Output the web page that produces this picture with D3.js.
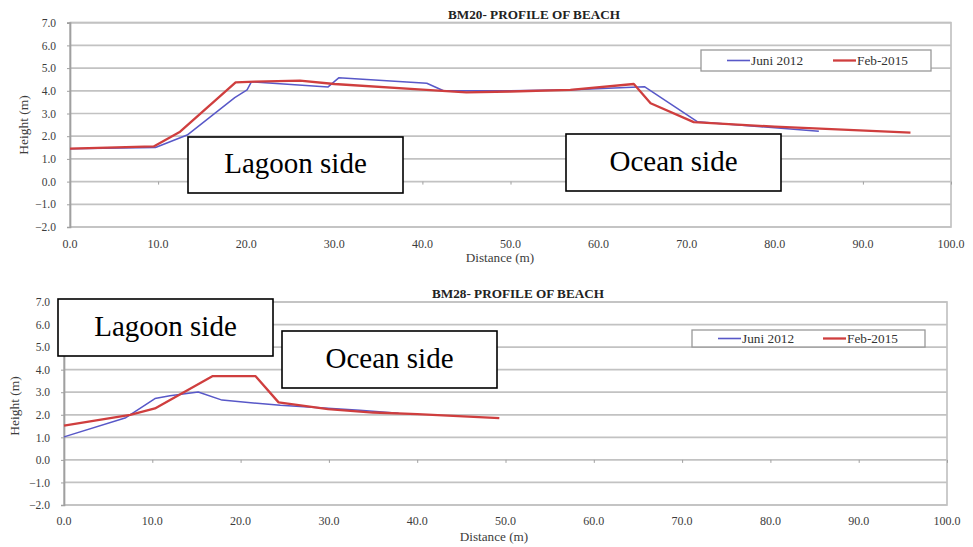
<!DOCTYPE html>
<html><head><meta charset="utf-8">
<script src="https://cdn.jsdelivr.net/npm/d3@7"></script>
<style>
body{margin:0;background:#fff;}
svg{display:block;}
</style></head>
<body>
<svg id="c" width="973" height="547"></svg>
<script>
// ---- data ----
const seriesNames = ["Juni 2012", "Feb-2015"];
const xTicks = [0,10,20,30,40,50,60,70,80,90,100];
const yTicks = [-2,-1,0,1,2,3,4,5,6,7];

// BM20 profile
const bm20Juni2012 = [[0,1.45],[9.7,1.5],[13.3,2.05],[18.7,3.7],[20.1,4.04],[20.6,4.4],[29.3,4.17],[30.5,4.57],[40.5,4.33],[42.4,4.0],[50,4.0],[57,4.05],[65.2,4.18],[71.2,2.64],[85,2.22]];
const bm20Feb2015 = [[0,1.45],[9.5,1.55],[12.5,2.2],[18.8,4.37],[21,4.4],[26.1,4.45],[30,4.3],[40,4.05],[45,3.93],[50,3.97],[56.8,4.04],[64,4.3],[65.9,3.45],[70.8,2.62],[80,2.42],[95.4,2.16]];
// BM28 profile
const bm28Juni2012 = [[0,1.02],[7,1.87],[10.3,2.72],[12,2.84],[15.2,3.01],[17.9,2.65],[24.5,2.42],[33.5,2.2],[37.9,2.07]];
const bm28Feb2015 = [[0,1.52],[7.5,2.0],[10.3,2.28],[16.8,3.71],[21.7,3.71],[24.3,2.55],[29.9,2.25],[35,2.1],[40,2.03],[49.3,1.85]];

const titles = ["BM20- PROFILE OF BEACH", "BM28- PROFILE OF BEACH"];
const xLabel = "Distance (m)", yLabel = "Height (m)";
const notes = ["Lagoon side", "Ocean side"];

const colors = ["#5858c8", "#cf3e3e"];
const FONT = "'Liberation Serif'";
const svg = d3.select("#c");

function chart(cfg){
  const g = svg.append("g");
  const x = d3.scaleLinear().domain([0,100]).range([cfg.x0, cfg.x1]);
  const y = d3.scaleLinear().domain([-2,7]).range([cfg.yb, cfg.yt]);
  g.selectAll(".grid").data(yTicks).join("line")
    .attr("x1", cfg.x0).attr("x2", cfg.x1)
    .attr("y1", d=>y(d)).attr("y2", d=>y(d))
    .attr("stroke", "#c2c2c2").attr("stroke-width", 1.7);
  g.append("rect").attr("x", cfg.x0).attr("y", y(7)).attr("width", cfg.x1-cfg.x0).attr("height", y(-2)-y(7))
    .attr("fill","none").attr("stroke","#c2c2c2").attr("stroke-width",1.7);
  const ya = d3.axisLeft(y).tickValues(yTicks).tickFormat(d3.format(".1f")).tickSize(3).tickPadding(cfg.ypad);
  const yg = g.append("g").attr("transform", `translate(${cfg.x0},0)`).call(ya);
  yg.select(".domain").attr("stroke","#a0a0a0").attr("stroke-width",1.7);
  yg.selectAll(".tick line").attr("stroke","#a0a0a0");
  yg.selectAll("text").attr("font-size",11.5).attr("fill","#3c3c3c");
  const xa = d3.axisBottom(x).tickValues(xTicks).tickSize(3).tickFormat("");
  const xg = g.append("g").attr("transform", `translate(0,${y(0)})`).call(xa);
  xg.select(".domain").remove();
  xg.selectAll(".tick line").attr("stroke","#a0a0a0");
  g.selectAll(".xl").data(xTicks).join("text")
    .attr("x", d=>x(d)).attr("y", cfg.xlY).attr("text-anchor","middle")
    .attr("font-size",12).attr("fill","#3c3c3c").text(d=>d3.format(".1f")(d));
  g.append("text").attr("x", cfg.xtX).attr("y", cfg.xtY).attr("text-anchor","middle")
    .attr("font-size",13.2).attr("fill","#3c3c3c").text(xLabel);
  g.append("text").attr("transform", `translate(${cfg.ytX},${cfg.ytY}) rotate(-90)`).attr("text-anchor","middle")
    .attr("font-size",13.5).attr("fill","#3c3c3c").text(yLabel);
  g.append("text").attr("x", cfg.tX).attr("y", cfg.tY).attr("text-anchor","middle")
    .attr("font-size",13.2).attr("font-weight","bold").attr("fill","#222").text(cfg.title);
  const line = d3.line().x(d=>x(d[0])).y(d=>y(d[1]));
  cfg.series.forEach((s,i)=>{
    g.append("path").datum(s).attr("d", line).attr("fill","none")
      .attr("stroke", colors[i]).attr("stroke-width", i===0?1.5:2.3).attr("stroke-linejoin","round");
  });
  const L = cfg.legend;
  g.append("rect").attr("x",L.x).attr("y",L.y).attr("width",L.w).attr("height",L.h)
    .attr("fill","#fff").attr("stroke","#999").attr("stroke-width",1.3);
  seriesNames.forEach((n,i)=>{
    const lx = L.x + L.items[i];
    g.append("line").attr("x1",lx).attr("x2",lx+23).attr("y1",L.y+L.h/2).attr("y2",L.y+L.h/2)
      .attr("stroke",colors[i]).attr("stroke-width", i===0?1.6:2.3);
    g.append("text").attr("x",lx+24).attr("y",L.y+L.h/2+4.5).attr("font-size",13.3).attr("fill","#333").text(n);
  });
  cfg.boxes.forEach((b,i)=>{
    g.append("rect").attr("x",b.x).attr("y",b.y).attr("width",b.w).attr("height",b.h)
      .attr("fill","#fff").attr("stroke","#000").attr("stroke-width",1.6);
    g.append("text").attr("x",b.x+b.w/2).attr("y",b.y+b.h/2+8).attr("text-anchor","middle")
      .attr("font-size",29).attr("fill","#000").text(notes[b.n]);
  });
  g.selectAll("text").style("font-family", FONT);
}

chart({x0:70,x1:951,yt:22.7,yb:227,ypad:11,xlY:247.5,xtX:500,xtY:262,ytX:27.5,ytY:125,tX:534,tY:18.5,title:titles[0],
  series:[bm20Juni2012,bm20Feb2015],
  legend:{x:701,y:50,w:230,h:21,items:[26,132]},
  boxes:[{x:188,y:137,w:215,h:56,n:0},{x:566,y:134,w:215,h:57,n:1}]});

chart({x0:64,x1:947,yt:302,yb:505,ypad:11,xlY:524.5,xtX:494,xtY:541,ytX:18.5,ytY:406,tX:518,tY:297.5,title:titles[1],
  series:[bm28Juni2012,bm28Feb2015],
  legend:{x:692,y:330,w:233,h:17,items:[26,131]},
  boxes:[{x:58,y:299,w:215,h:57,n:0},{x:282,y:331,w:215,h:57,n:1}]});
</script>
</body></html>
